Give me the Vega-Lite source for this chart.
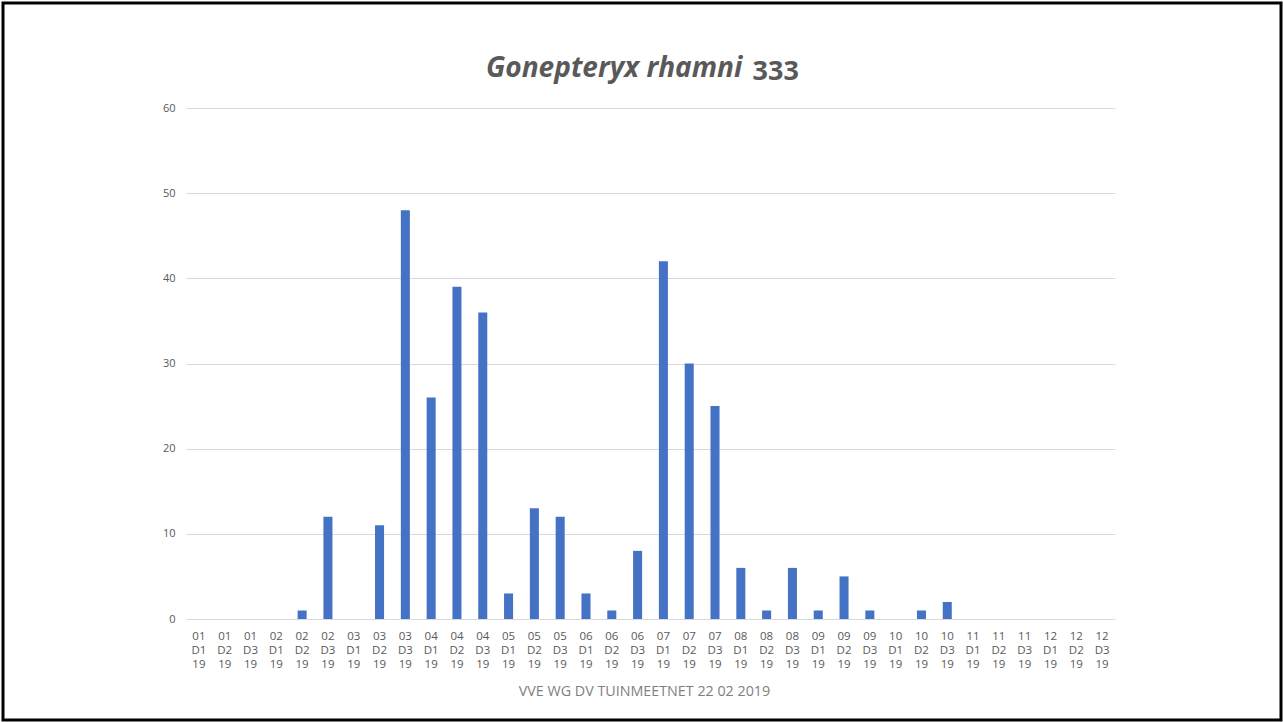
{
  "$schema": "https://vega.github.io/schema/vega-lite/v6.json",
  "width": 1278,
  "height": 717,
  "autosize": "none",
  "padding": {"left": 3, "top": 3, "right": 2, "bottom": 2},
  "background": "white",
  "title": {
    "text": "Gonepteryx rhamni",
    "anchor": "start",
    "frame": "group",
    "dx": 483,
    "offset": -102,
    "font": "Open Sans",
    "fontSize": 28,
    "fontWeight": "bold",
    "fontStyle": "italic",
    "color": "#595959",
    "baseline": "alphabetic"
  },
  "config": {
    "view": {"stroke": "black", "strokeWidth": 3, "fill": "white"}
  },
  "data": {
    "values": [
      {"periode": "01 D1 19", "aantal": 0},
      {"periode": "01 D2 19", "aantal": 0},
      {"periode": "01 D3 19", "aantal": 0},
      {"periode": "02 D1 19", "aantal": 0},
      {"periode": "02 D2 19", "aantal": 1},
      {"periode": "02 D3 19", "aantal": 12},
      {"periode": "03 D1 19", "aantal": 0},
      {"periode": "03 D2 19", "aantal": 11},
      {"periode": "03 D3 19", "aantal": 48},
      {"periode": "04 D1 19", "aantal": 26},
      {"periode": "04 D2 19", "aantal": 39},
      {"periode": "04 D3 19", "aantal": 36},
      {"periode": "05 D1 19", "aantal": 3},
      {"periode": "05 D2 19", "aantal": 13},
      {"periode": "05 D3 19", "aantal": 12},
      {"periode": "06 D1 19", "aantal": 3},
      {"periode": "06 D2 19", "aantal": 1},
      {"periode": "06 D3 19", "aantal": 8},
      {"periode": "07 D1 19", "aantal": 42},
      {"periode": "07 D2 19", "aantal": 30},
      {"periode": "07 D3 19", "aantal": 25},
      {"periode": "08 D1 19", "aantal": 6},
      {"periode": "08 D2 19", "aantal": 1},
      {"periode": "08 D3 19", "aantal": 6},
      {"periode": "09 D1 19", "aantal": 1},
      {"periode": "09 D2 19", "aantal": 5},
      {"periode": "09 D3 19", "aantal": 1},
      {"periode": "10 D1 19", "aantal": 0},
      {"periode": "10 D2 19", "aantal": 1},
      {"periode": "10 D3 19", "aantal": 2},
      {"periode": "11 D1 19", "aantal": 0},
      {"periode": "11 D2 19", "aantal": 0},
      {"periode": "11 D3 19", "aantal": 0},
      {"periode": "12 D1 19", "aantal": 0},
      {"periode": "12 D2 19", "aantal": 0},
      {"periode": "12 D3 19", "aantal": 0}
    ]
  },
  "mark": {"type": "bar", "color": "#4472C4"},
  "encoding": {
    "x": {
      "field": "periode",
      "type": "nominal",
      "sort": null,
      "scale": {"range": [183, 1112], "paddingInner": 0.65, "paddingOuter": 0.325},
      "axis": {
        "orient": "bottom",
        "offset": -101,
        "labelExpr": "split(datum.label, ' ')",
        "labelAngle": 0,
        "labelFont": "Open Sans",
        "labelFontSize": 11.5,
        "labelColor": "#595959",
        "labelLineHeight": 14,
        "labelPadding": 11.5,
        "labelBaseline": "top",
        "labelOverlap": false,
        "labelFlush": false,
        "ticks": false,
        "domain": false,
        "grid": false,
        "title": "VVE WG DV TUINMEETNET 22 02 2019",
        "titleFont": "Open Sans",
        "titleFontSize": 14.3,
        "titleFontWeight": "normal",
        "titleColor": "#808080",
        "titleX": 641,
        "titleY": 76,
        "titleAlign": "center",
        "titleBaseline": "alphabetic"
      }
    },
    "y": {
      "field": "aantal",
      "type": "quantitative",
      "scale": {"domain": [0, 60], "range": [616, 105], "nice": false, "zero": true},
      "axis": {
        "values": [0, 10, 20, 30, 40, 50, 60],
        "offset": -183,
        "ticks": false,
        "tickSize": 0,
        "domain": false,
        "grid": true,
        "gridColor": "#d9d9d9",
        "gridWidth": 1,
        "labelFont": "Open Sans",
        "labelFontSize": 11,
        "labelColor": "#595959",
        "labelPadding": 11,
        "title": "333",
        "titleAngle": 0,
        "titleX": 566,
        "titleY": 76,
        "titleAlign": "left",
        "titleBaseline": "alphabetic",
        "titleFont": "Open Sans",
        "titleFontSize": 27,
        "titleFontWeight": "bold",
        "titleColor": "#595959"
      }
    }
  }
}
